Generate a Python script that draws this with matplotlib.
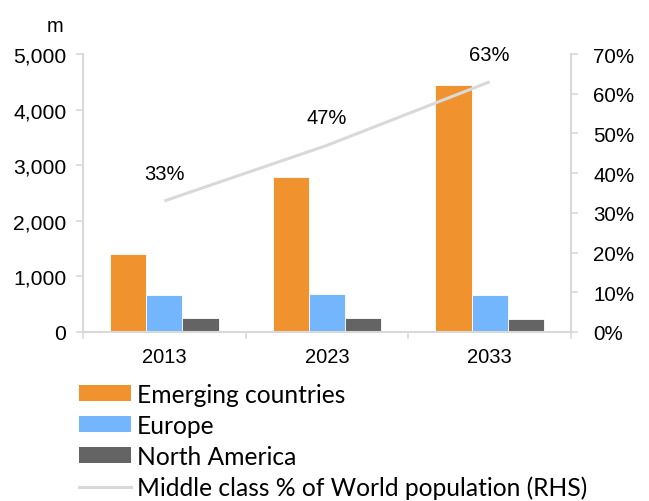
import matplotlib
matplotlib.use("Agg")
import matplotlib.pyplot as plt
import numpy as np
from matplotlib.patches import Patch
from matplotlib.lines import Line2D

years = ["2013", "2023", "2033"]
emerging = [1400, 2780, 4450]
europe = [670, 690, 665]
north_america = [250, 250, 240]
middle_class_pct = [33, 47, 63]

orange = "#F0932F"
blue = "#73B6FD"
dark = "#646464"
grey_line = "#D9D9D9"
axis_grey = "#D9D9D9"

plt.rcParams["font.family"] = ["Liberation Sans", "DejaVu Sans"]

fig = plt.figure(figsize=(6.49, 5.02), dpi=100)
ax = fig.add_axes([0.1279, 0.3367, 0.7519, 0.5537])

x = np.arange(len(years))
w = 0.222
ax.bar(x - w, emerging, w, color=orange, edgecolor="white", linewidth=0.6)
ax.bar(x, europe, w, color=blue, edgecolor="white", linewidth=0.6)
ax.bar(x + w, north_america, w, color=dark, edgecolor="white", linewidth=0.6)

ax.set_xlim(-0.5, 2.5)
ax.set_ylim(0, 5000)
ax.set_yticks(range(0, 5001, 1000))
ax.set_yticklabels([f"{v:,}" for v in range(0, 5001, 1000)])
ax.set_xticks(x)
ax.set_xticklabels(years)
ax.set_xticks([-0.5, 0.5, 1.5, 2.5], minor=True)
ax.tick_params(axis="x", which="major", length=0, pad=11, labelsize=14.5)
ax.tick_params(axis="x", which="minor", length=5, color=axis_grey, width=1.2)
ax.tick_params(axis="y", length=5, color=axis_grey, width=1.2, labelsize=15.2, pad=7)
for s in ["top", "right"]:
    ax.spines[s].set_visible(False)
for s in ["left", "bottom"]:
    ax.spines[s].set_color(axis_grey)
    ax.spines[s].set_linewidth(1.5)

ax.text(-0.04, 1.07, "m", transform=ax.transAxes, ha="right", va="bottom", fontsize=14.5)

ax2 = ax.twinx()
ax2.set_ylim(0, 70)
ax2.set_yticks(range(0, 71, 10))
ax2.set_yticklabels([f"{v}%" for v in range(0, 71, 10)])
ax2.tick_params(axis="y", length=5, color=axis_grey, width=1.2, labelsize=14.8, pad=11)
for s in ["top", "left", "bottom"]:
    ax2.spines[s].set_visible(False)
ax2.spines["right"].set_color(axis_grey)
ax2.spines["right"].set_linewidth(1.5)

ax2.plot(x, middle_class_pct, color=grey_line, linewidth=2.2, solid_capstyle="butt")
for xi, v in zip(x, middle_class_pct):
    ax2.annotate(f"{v}%", (xi, v), xytext=(0, 13), textcoords="offset points",
                 ha="center", va="bottom", fontsize=14.5)

handles = [
    Patch(facecolor=orange, edgecolor="none"),
    Patch(facecolor=blue, edgecolor="none"),
    Patch(facecolor=dark, edgecolor="none"),
    Line2D([], [], color=grey_line, linewidth=2.2),
]
labels = ["Emerging countries", "Europe", "North America",
          "Middle class % of World population (RHS)"]
fig.legend(handles, labels, loc="upper left", bbox_to_anchor=(0.1217, 0.236),
           frameon=False, prop={"family": ["Lato", "DejaVu Sans"], "size": 17.7},
           handlelength=2.11, handleheight=0.61, handletextpad=0.25,
           labelspacing=0.33, borderaxespad=0, borderpad=0)

fig.savefig("out.png", dpi=100)
